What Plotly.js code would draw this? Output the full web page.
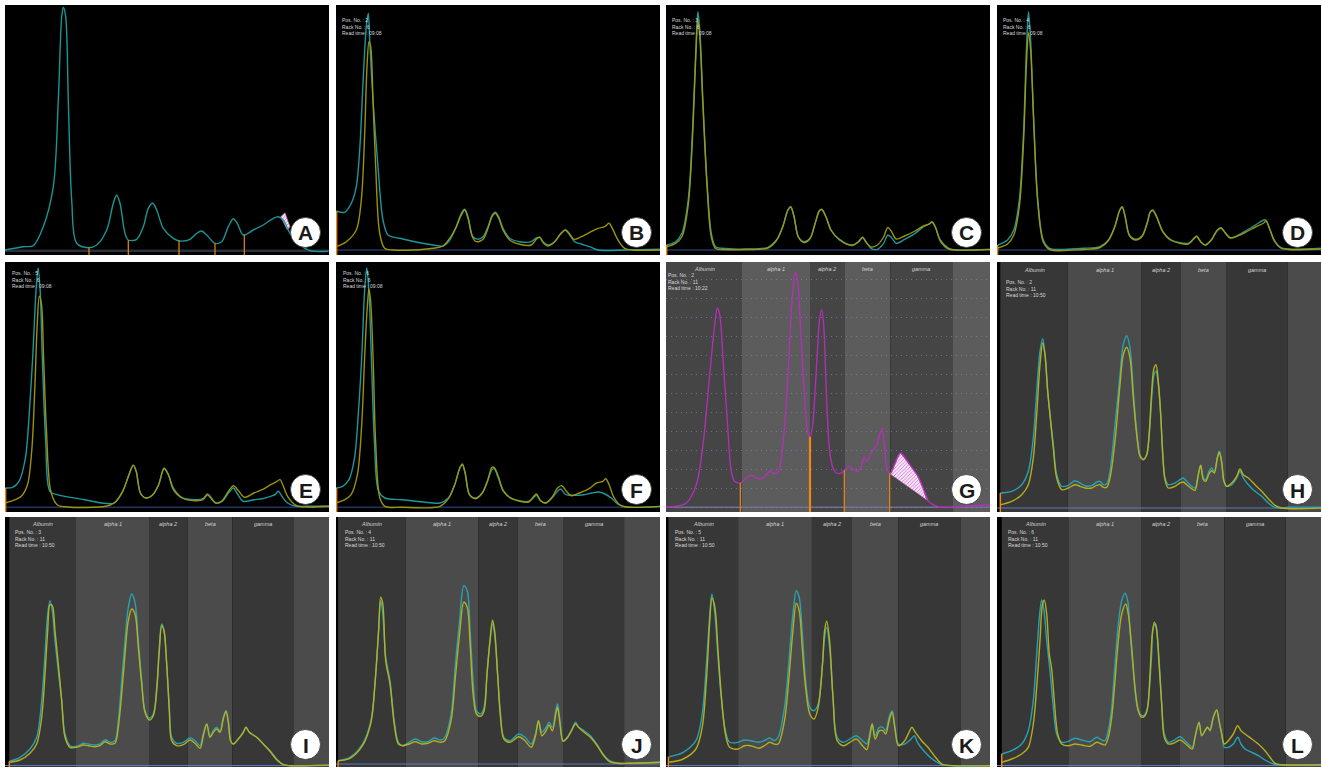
<!DOCTYPE html>
<html><head><meta charset="utf-8">
<script src="https://cdn.plot.ly/plotly-3.0.1.min.js"></script>
<style>html,body{margin:0;padding:0;background:#fff}#chart{width:1322px;height:770px}</style>
</head><body><div id="chart"></div>
<script>
// ---------------- DATA (x = migration position, y = intensity, arbitrary units) ----------------
const letters  = ['A','B','C','D','E','F','G','H','I','J','K','L'];
const posNo    = [null,'2','3','4','5','6','2','2','3','4','5','6'];
const rackNo   = [null,'6','6','6','6','6','11','11','11','11','11','11'];
const readTime = [null,'09:08','09:08','09:08','09:08','09:08','10:22','10:50','10:50','10:50','10:50','10:50'];
const bandNames = ['Albumin','alpha 1','alpha 2','beta','gamma'];

// fraction boundaries (panels G-L)
const bandsG = [0,76,144,178.3,224.3,286.3,324];
const bandsH = [3.3,70.7,144.7,184,229,290.7,324];
const bandsI = [4.3,71,144,182.7,227.3,288.3,324];
const bandsJ = [2.1,69.6,142.6,181.8,227,288.1,324];
const bandsK = [2.4,72.1,145.9,186,232.4,294.4,324];
const bandsL = [4.7,71.3,144,183,227.3,288.7,324];

// separators
const sepsA = [84,123.3,174,210,239.3];
const sepsG = [74.3,144,178.3,223.7];

const A_trace = [[0,5],[18.3,8.3],[28.3,9.3],[38.3,28.3],[48.3,68.3],[53.3,155],[56.7,238.3],[58.3,247.7],[60.7,238.3],[63.3,155],[66.7,55],[71.7,11.7],[83.3,7.3],[91.7,10],[101.7,25],[108.3,51.7],[111.7,60],[115,51.7],[120,21.7],[123.3,15],[131.7,15.7],[138.3,28.3],[143.3,46.7],[147.7,51.7],[151.7,45],[158.3,26.7],[168.3,16.7],[175,14],[185,15.7],[191.7,21.7],[196.7,24],[201.7,20],[210,11.7],[216.7,13.3],[223.3,28.3],[228.3,36.3],[232.3,31.7],[238.3,20],[248.3,25],[258.3,30],[268.3,36.7],[273.3,38.3],[278.3,35],[285,21.7],[295,10],[305,4.3],[323.3,3.7]];
const A_hatch = [[275.7,38.3],[280,42.3],[285,28.3],[282.3,25]];

const B_teal = [[0.3,44],[8.7,42.7],[15.3,51.7],[20.3,68.3],[23.7,105],[27,171.7],[30.3,228.3],[32.3,241.7],[33.7,215],[37,155],[42,88.3],[47,35],[52,20],[63.7,16.7],[83.7,12.3],[97,10],[107,9],[113.7,15],[120.3,28.3],[125.3,41.7],[128.7,45.7],[132,38.3],[137,18.3],[142,15.7],[147,18.3],[152,28.3],[156.3,40],[159.3,42.7],[162.7,38.3],[167,26.7],[173.7,16.7],[183.7,13.3],[195.3,13.3],[200.3,17],[203.7,17.7],[207,13.3],[212,10],[218.7,13.3],[225.3,22.3],[229.3,25],[233.7,20],[238.7,13.3],[245.3,11],[253.7,8.3],[262,5],[290.3,5],[325,5.7]];
const B_yellow = [[0.3,8.3],[10.3,13.3],[20.3,25],[25.3,55],[28.7,121.7],[31,188.3],[33,213.3],[34.7,208.3],[37,155],[39.7,88.3],[43.7,21.7],[48.7,6.7],[57,5],[77,5],[97,6.7],[107,9],[113.7,16.7],[120.3,28.3],[125.3,40],[128.7,45],[132,36.7],[136.3,18.3],[140.3,13.3],[147,15.7],[152,26.7],[156.3,39],[159.3,41.7],[162.7,36.7],[167,25],[173.7,15],[183.7,10.7],[195.3,10],[200.3,15.7],[203.7,17.7],[207.7,11.7],[212,9],[218.7,13.3],[225.3,21.7],[229.3,25],[233.7,21],[237.7,15.7],[245.3,18.3],[253.7,22.7],[262,26.7],[268.7,28.3],[273,31.7],[276.3,26.7],[282,15],[288.7,6.7],[297,5],[325,5]];

const C_teal = [[0.4,10],[9.6,13.3],[15.9,21.7],[22.2,55],[26.4,121.7],[29.8,205],[31.9,243.3],[34,221.7],[36.9,155],[41.1,71.7],[45.3,21.7],[49.5,8.3],[55.8,6.7],[81,6],[102,7.7],[110.4,15],[116.7,28.3],[121.8,45],[124.7,48.3],[128.1,38.3],[132.3,18.3],[137.8,13.3],[144.1,16.7],[149.1,31.7],[153.3,44.3],[155.8,45.7],[160,38.3],[165.1,25],[173.5,15.7],[186.1,10],[192.4,13.3],[196.6,17.7],[199.9,13.3],[205,6.7],[211.3,5.7],[217.6,11.7],[221.8,20],[225.2,17.7],[230.2,11.7],[238.6,15.7],[249.1,21.7],[257.5,28.3],[263.8,31.7],[265.9,33.3],[269.3,28.3],[274.3,15],[282.7,6.7],[291.1,5],[324.7,5.7]];
const C_yellow = [[0.4,8.3],[9.6,11.7],[15.9,18.3],[22.2,50],[26.4,115],[29.8,198],[31.9,236],[34,215],[36.9,150],[41.1,68],[45.3,18],[49.5,6.5],[55.8,5.5],[81,5.5],[102,7],[110.4,14.5],[116.7,28],[121.8,44.5],[124.7,48],[128.1,38],[132.3,18],[137.8,12.5],[144.1,16.5],[149.1,31.5],[153.3,44],[155.8,45.5],[160,38],[165.1,24.5],[173.5,15],[186.1,9.5],[192.4,13],[196.6,17.5],[199.9,13],[205,8],[211.3,10],[217.6,18],[221.8,27.5],[225.2,24],[230.2,16],[238.6,19],[249.1,24],[257.5,29],[263.8,31],[265.9,33],[269.3,28],[274.3,14],[282.7,6],[291.1,5],[324.7,5.5]];

const D_teal = [[0.9,10],[10.5,15],[16.8,25],[22.3,55],[26.5,121.7],[29.4,205],[31.5,243.3],[33.6,215],[36.6,138.3],[40.8,55],[46.3,15],[52.6,6.7],[86.2,6.7],[103,8.3],[111.4,15],[117.7,28.3],[122.7,45],[125.2,48.3],[128.2,38.3],[132.4,20],[138.7,15.7],[145,19],[150,31.7],[153.4,43.3],[155.9,45],[159.7,38.3],[166,23.3],[174.4,15],[191.2,11.7],[196.7,16.7],[199.6,19],[203.8,13.3],[208,10],[214.3,15],[219.8,24.3],[224,27.3],[228.2,22.3],[233.2,17.3],[241.6,20],[250,25],[258.4,30],[266.8,35],[268.9,35],[273.1,25],[277.3,15],[283.6,7.7],[292,6],[323.9,6.7]];
const D_yellow = [[0.9,7],[10.5,11],[16.8,20],[22.3,48],[26.5,112],[29.4,190],[31.5,222],[33.6,205],[36.6,135],[40.8,52],[46.3,13],[52.6,5.5],[86.2,5.5],[103,7.5],[111.4,14.5],[117.7,28],[122.7,44.5],[125.2,48],[128.2,38],[132.4,19.5],[138.7,15],[145,18.5],[150,31],[153.4,43],[155.9,44.5],[159.7,38],[166,23],[174.4,14.5],[191.2,11],[196.7,16],[199.6,18.5],[203.8,13],[208,10],[214.3,15],[219.8,24],[224,27],[228.2,22],[233.2,17],[241.6,19.5],[250,23.5],[258.4,28],[266.8,32],[268.9,34],[273.1,25],[277.3,14],[283.6,7],[292,5.5],[323.9,6]];

const E_teal = [[0.1,24],[7.7,24.7],[14,30.7],[20.4,54],[24.6,104],[28,160.7],[31,220.7],[33.1,244],[35.2,220.7],[37.3,154],[40.7,70.7],[44.9,20.7],[52.1,17.3],[79.6,12.3],[96.5,9],[109.2,9],[117.7,20.7],[124,37.3],[128.2,46.7],[131.2,40.7],[135.4,19],[140.9,14],[147.3,16.7],[153.6,27.3],[159.1,43.3],[163.4,37.3],[168.4,24],[176.9,14.7],[189.6,12.3],[198,13.3],[202.3,18],[205.2,15.7],[210.7,9],[217.1,10.7],[223.4,19],[228.5,24],[231.9,19],[238.2,10.7],[248.8,12.3],[257.3,13.3],[265.7,15.7],[270,17.3],[273.3,20.7],[277.6,14.7],[282.6,9],[291.1,5.7],[301.7,5.7],[324.1,5.7]];
const E_yellow = [[0.1,9],[7.7,11.3],[16.2,15.7],[22.5,27.3],[26.7,60.7],[29.7,120.7],[32.2,187.3],[34.3,215.7],[36.5,207.3],[38.6,154],[41.5,80.7],[45.8,20.7],[52.1,7.3],[62.7,5],[100.8,5.7],[109.2,9],[117.7,20.7],[124,37.3],[128.2,46.7],[131.2,40.7],[135.4,19],[140.9,14],[147.3,16.7],[153.6,27.3],[159.1,44],[163.4,37.3],[168.4,22.3],[176.9,14],[189.6,11.3],[198,12.3],[202.3,17.3],[205.2,14.7],[210.7,9],[217.1,11.3],[223.4,20.7],[228.5,26.3],[232.7,22.3],[239.5,14.7],[248.8,19],[257.3,22.3],[265.7,27.3],[272.1,30.7],[275,32.3],[278.4,25.7],[282.6,15.7],[291.1,6.7],[301.7,5],[324.1,5.7]];

const F_teal = [[0,24],[6.6,25.7],[13,32.3],[18.5,54],[22.7,104],[25.7,154],[28.6,220.7],[30.8,244],[32.9,220.7],[35.4,154],[38.4,70.7],[42.6,20.7],[48.9,14],[65.9,12.3],[87,10],[103.9,9],[112.4,14],[118.7,27.3],[123.8,44],[126.4,47.3],[129.3,37.3],[133.5,17.3],[139.9,14],[146.2,19],[151.3,30.7],[155.9,42.3],[158.1,43.3],[162.3,34],[167.4,20.7],[175.8,13.3],[192.8,10.7],[197.8,14.7],[200.4,16.7],[204.6,11.3],[209.7,9],[216,14],[221.5,20.7],[224.5,23],[230,17.3],[237.2,16.7],[247.8,17.3],[256.2,19],[262.6,20],[268.9,18],[275.3,14],[281.6,8],[290.1,5],[324.7,5.7]];
const F_yellow = [[0,9],[8.8,12.3],[15.1,17.3],[21.4,37.3],[25.7,87.3],[28.6,154],[31.2,204],[32.9,223],[34.6,211.3],[37.1,154],[39.6,70.7],[43.9,14],[48.9,5.7],[65.9,4.7],[103.9,5.7],[112.4,13.3],[118.7,27.3],[123.8,44],[126.4,48],[129.3,39],[133.5,17.3],[139.9,13.3],[146.2,19],[151.3,30],[155.9,44.7],[158.1,44.7],[162.3,35.7],[167.4,21.3],[175.8,13.3],[192.8,10],[197.8,15.7],[200.4,18],[204.6,11.3],[209.7,9],[216,14.7],[221.5,24],[225.8,26.3],[230,21.3],[235.1,16.3],[243.5,19],[254.1,24],[260.4,29],[266.8,30.7],[269.8,33.3],[273.1,27.3],[277.4,15.7],[283.7,7.3],[290.1,5],[324.7,5.7]];

const G_trace = [[0,4.7],[10.3,5.7],[20.3,9],[30.3,27.3],[37,67.3],[43.7,137.3],[48.7,187.3],[51.3,204],[53.7,197.3],[57,154],[62,80.7],[65.3,40.7],[68.7,30.7],[74.3,29],[80.3,34],[85.3,36.7],[90.3,34],[95.3,33],[100.3,37.3],[103.7,40.7],[107,39],[112,39],[115.3,54],[118.7,87.3],[122,137.3],[125.3,200.7],[127.7,230.7],[129.7,240],[132,227.3],[135.3,170.7],[138.7,114],[141,84],[143.7,74],[146.3,84],[148.7,114],[151,154],[153.7,194],[155.7,202.3],[157.7,187.3],[160.3,120.7],[163.7,60.7],[167,44],[170.3,39],[175.3,39],[178.7,42],[183,45.7],[187,43.3],[192,40.7],[195.3,45.7],[198,54.7],[201,50.7],[204.3,57.3],[208.7,64],[211,67.3],[213.7,77.3],[215.7,83.3],[217.7,74],[219.7,50.7],[222,40.7],[224.3,38],[234.3,59],[243.7,47.3],[252,35.7],[257,24],[262,11.3],[267,7.3],[273.7,4.7],[287,4.7],[297,5.7],[325,7.3]];
const G_hatch = [[224.3,38],[234.3,59],[243.7,47.3],[252,35.7],[257,24],[262,11.3]];

const H_teal = [[3.3,19],[14.7,20.7],[24.7,27.3],[31.3,40.7],[36.3,74],[39.7,120.7],[43,160.7],[45.7,173.3],[48,157.3],[50.7,120.7],[53,97.3],[56.3,67.3],[59.7,37.3],[64.7,25.7],[71.3,26.7],[78,31.3],[83,29],[88,26.3],[94.7,26.3],[99.7,30],[103,30.7],[106.3,27.3],[109.7,28],[113,40.7],[118,87.3],[123,137.3],[126.3,167.3],[129.7,176.3],[133,164],[136.3,120.7],[139.7,80.7],[143,57.3],[146.3,53],[149.7,57.3],[152.3,77.3],[154.7,114],[157,137.3],[159,140.7],[161.3,127.3],[163.7,97.3],[165.7,60.7],[168,34],[171.3,27.3],[178,29],[183,32.3],[186.3,34],[189.7,30.7],[194.7,25.7],[198,24],[201.3,37.3],[203.7,46.7],[206.3,34],[208.7,32.3],[212,40.7],[214.7,44],[217.3,40.7],[220.3,54],[222.3,60.7],[224.7,50.7],[227,30.7],[229.7,25.7],[234.7,27.3],[239.7,34],[243,40.7],[246.3,34],[251.3,27.3],[258,20.7],[264.7,15.7],[271.3,9],[278,4.7],[284.7,4],[291.3,4.7],[326.3,4.7]];
const H_yellow = [[3.3,7.3],[14.7,10.7],[24.7,17.3],[31.3,27.3],[36.3,54],[39.7,97.3],[43,147.3],[45.7,169],[48,157.3],[50.7,120.7],[53,97.3],[56.3,64],[59.7,34],[64.7,22.3],[71.3,24],[78,27.3],[83,25.7],[88,24],[94.7,24],[99.7,26.7],[103,27.3],[106.3,24.7],[109.7,24.7],[113,34],[118,70.7],[123,127.3],[126.3,157.3],[129.7,164.7],[133,154],[136.3,114],[139.7,77.3],[143,55.7],[146.3,52.3],[149.7,57.3],[152.3,80.7],[154.7,120.7],[157,144],[159,147.3],[161.3,130.7],[163.7,97.3],[165.7,57.3],[168,32.3],[171.3,24],[178,25.7],[183,29],[186.3,30],[189.7,27.3],[194.7,23.3],[198,21.7],[201.3,37.3],[203.7,46.7],[206.3,32.3],[208.7,30.7],[212,38],[214.7,41.3],[217.3,39],[220.3,54],[222.3,59.7],[224.7,49],[227,30.7],[229.7,25.7],[234.7,29],[239.7,35.7],[243,43],[246.3,37.3],[251.3,34],[258,27.3],[264.7,20.7],[271.3,13.3],[278,6.7],[284.7,4],[326.3,4]];

const I_teal = [[4.3,5.7],[15,9.7],[25,18],[31.7,29.7],[36.7,66.3],[40,113],[42.7,153],[45,166.3],[47.3,156.3],[50,126.3],[53.3,96.3],[56.7,66.3],[60,33],[65,21.3],[71.7,20.7],[78.3,23.7],[83.3,23],[90,22],[95,23],[100,27.3],[105,24.7],[110,26.3],[113.3,46.3],[116.7,86.3],[120,126.3],[123.3,159.7],[126.7,173],[130,164.7],[133.3,126.3],[136.7,86.3],[140,56.3],[144.3,49],[148.3,53],[151.7,79.7],[154.3,119.7],[156.7,143],[159,136.3],[161.7,103],[164.3,59.7],[166.7,29.7],[171.7,23.7],[178.3,24.7],[185,29],[190,26.3],[195,21.3],[198.3,33],[201.7,43],[205,30.3],[208.3,36.3],[211.7,39.7],[215,35.7],[218.3,49.7],[221,56.3],[223.3,46.3],[225.7,26.3],[228.3,23],[233.3,28],[238.3,34.7],[241,39.7],[244.3,34.7],[251.7,29.7],[258.3,23],[265,16.3],[271.7,8],[278.3,2.3],[285,1.3],[328.3,2]];
const I_yellow = [[4.3,4.7],[15,7],[25,13.7],[31.7,23],[36.7,49.7],[40,93],[42.7,136.3],[45,162.3],[47.3,161.3],[50,136.3],[53.3,103],[56.7,66.3],[60,29.7],[65,19.7],[71.7,19.7],[78.3,22],[83.3,21.3],[90,20.3],[95,21.3],[100,25.3],[105,23],[110,23.7],[113.3,39.7],[116.7,73],[120,113],[123.3,146.3],[126.7,158],[130,153],[133.3,119.7],[136.7,83],[140,54.7],[144.3,47],[148.3,51.3],[151.7,76.3],[154.3,116.3],[156.7,141.3],[159,136.3],[161.7,103],[164.3,56.3],[166.7,26.3],[171.7,21.3],[178.3,22.3],[185,27],[190,23.7],[195,18.7],[198.3,31.3],[201.7,43],[205,29.7],[208.3,34.7],[211.7,38],[215,34.7],[218.3,48],[221,55.7],[223.3,44.7],[225.7,25.7],[228.3,23],[233.3,28],[238.3,34.7],[241,39.7],[244.3,34.7],[251.7,29.7],[258.3,23],[265,15.7],[271.7,7.3],[278.3,2.3],[285,1.3],[328.3,2]];

const J_teal = [[2.1,6.3],[13.9,9.7],[26.5,23],[35,46.3],[39.2,86.3],[42.6,136.3],[44.7,166.3],[46.8,153],[49.7,109.7],[54,86.3],[58.2,46.3],[62.4,24.7],[66.6,21.3],[73,24.7],[79.3,28],[85.6,25.3],[91.9,25.3],[98.3,29],[104.6,27],[108.8,29.7],[115.1,53],[119.4,103],[123.6,146.3],[127.8,181.3],[131.2,176.3],[134.1,136.3],[137.1,86.3],[140.5,56.3],[144.7,53],[148.1,59.7],[151,93],[154,126.3],[156.5,143],[158.6,133],[161.6,93],[164.5,53],[167.9,29.7],[174.2,26.3],[182.7,33],[189,29.7],[195.3,23],[199.5,33],[202.5,46.3],[205.9,34.7],[210.1,39.7],[213,44.7],[216.4,39.7],[219.8,56.3],[221.5,63],[224,46.3],[227,26.3],[231.2,29.7],[235.4,36.3],[239.6,44.7],[242.6,39.7],[248.1,36.3],[254.4,31.3],[260.7,23],[267,13],[273.4,6.3],[281.8,3.7],[292.4,3.7],[324,4.7]];
const J_yellow = [[2.1,6.3],[13.9,8.7],[26.5,21.3],[35,44.7],[39.2,86.3],[42.6,136.3],[44.7,169.7],[46.8,163],[49.7,106.3],[54,83],[58.2,43],[62.4,23],[66.6,21.3],[73,23],[79.3,25.3],[85.6,23],[91.9,23.7],[98.3,26.3],[104.6,24.7],[108.8,26.3],[115.1,46.3],[119.4,89.7],[123.6,133],[127.8,164.7],[131.2,159.7],[134.1,123],[137.1,73],[140.5,53],[144.7,50.7],[148.1,56.3],[151,93],[154,126.3],[156.5,147],[158.6,136.3],[161.6,93],[164.5,49.7],[167.9,28],[174.2,24.7],[182.7,30.3],[189,26.3],[195.3,19.7],[199.5,31.3],[202.5,46.3],[205.9,31.3],[210.1,36.3],[213,42],[216.4,36.3],[219.8,53],[221.5,59.7],[224,43],[227,25.7],[231.2,29],[235.4,36.3],[239.6,43],[242.6,39.7],[248.1,34.7],[254.4,29.7],[260.7,22],[267,12.3],[273.4,5.7],[281.8,3.7],[292.4,3.7],[324,4.7]];

const K_teal = [[3.3,10.3],[17.2,14.7],[29.9,26.3],[36.2,53],[40.4,103],[43.8,153],[45.9,173],[48.9,153],[51.8,113],[55.2,69.7],[59.4,36.3],[63.6,24.7],[72.1,24.7],[78.4,27],[84.7,26.3],[93.2,24.7],[99.5,27],[103.7,29],[107.9,26.3],[112.1,29.7],[118.5,59.7],[122.7,103],[126.9,153],[130.3,176.3],[133.2,169.7],[136.2,136.3],[139.6,86.3],[143.8,59.7],[148,56.3],[152.2,63],[156.5,103],[158.6,129.7],[160.7,139.7],[163.6,119.7],[167,69.7],[171.2,29.7],[177.5,24.7],[183.9,28],[190.2,31.3],[196.5,26.3],[200.7,23],[203.7,33],[206.2,43],[209.2,31.3],[213.4,39.7],[216.8,39.7],[219.7,36.3],[223.1,49.7],[226.1,56.3],[229,39.7],[232.4,23],[238.7,23],[245.1,28],[248.4,31.3],[251.4,24.7],[257.7,16.3],[266.2,8],[274.6,3],[287.3,1.3],[325.2,1.3]];
const K_yellow = [[3.3,4.7],[17.2,8],[29.9,18],[36.2,39.7],[40.4,86.3],[43.8,146.3],[45.9,169],[48.9,159.7],[51.8,119.7],[55.2,73],[59.4,33],[63.6,19.7],[72.1,18],[78.4,21.3],[84.7,21.3],[93.2,18.7],[99.5,22],[103.7,24.7],[107.9,23],[112.1,23],[118.5,46.3],[122.7,86.3],[126.9,136.3],[130.3,163.7],[133.2,156.3],[136.2,119.7],[139.6,79.7],[143.8,53],[148,48],[152.2,59.7],[156.5,103],[158.6,136.3],[160.7,145.7],[163.6,126.3],[167,69.7],[171.2,26.3],[177.5,21.3],[183.9,24.7],[190.2,28],[196.5,21.3],[200.7,17.3],[203.7,29.7],[206.2,43],[209.2,28],[213.4,36.3],[216.8,36.3],[219.7,33],[223.1,46.3],[226.1,54.7],[229,38],[232.4,21.3],[238.7,26.3],[243,34.7],[245.9,39.7],[249.3,34.7],[255.6,26.3],[261.9,19.7],[268.3,11.3],[276.7,2.3],[287.3,1.3],[325.2,1.3]];

const L_teal = [[4.7,13],[14.7,16.3],[24.7,23],[31.3,36.3],[36.3,66.3],[39.7,113],[43,156.3],[44.7,167],[47,156.3],[49.7,126.3],[53,96.3],[56.3,59.7],[59.7,33],[64.7,24.7],[71.3,25.7],[78,28.7],[84.7,27],[93,25.3],[99.7,29.7],[104.7,27],[108,26.3],[111.3,36.3],[114.7,59.7],[118,103],[121.3,143],[124.7,166.3],[128,173.7],[130.7,166.3],[133,136.3],[136.3,96.3],[139.7,63],[143,53],[146.3,51.3],[149.7,56.3],[152,73],[154.7,113],[156.3,139.7],[158.7,143],[160.7,126.3],[163,93],[165.3,53],[167.3,33],[171.3,24.7],[176.3,26.3],[183,30.3],[188,26.3],[191.3,23],[195.3,19.7],[198,29.7],[202,44.7],[204.7,31.3],[208,36.3],[210.3,39.7],[213,38],[216.3,49.7],[219.7,57],[222,46.3],[224.7,33],[227.3,19.7],[231.3,19.7],[236.3,23],[240.7,29.7],[244,23],[248,18],[254.7,14.7],[261.3,11.3],[268,7],[274.7,3.7],[281.3,2.3],[326.3,2.3]];
const L_yellow = [[4.7,4.7],[14.7,8],[24.7,13],[31.3,19.7],[36.3,43],[39.7,79.7],[43,126.3],[45.3,161.3],[47.3,167],[49.7,153],[52.3,113],[54.7,98],[57.3,66.3],[60.7,33],[64.7,23],[71.3,21.3],[78,23],[84.7,22],[93,20.7],[99.7,24.7],[104.7,23],[108,22],[111.3,29.7],[114.7,49.7],[118,86.3],[121.3,126.3],[124.7,153],[128.7,163],[131.3,153],[134.7,119.7],[138,79.7],[141.3,56.3],[144.7,49.7],[148,51.3],[150.7,59.7],[153,93],[155.3,133],[157.3,144.7],[159.7,136.3],[162,103],[164.7,63],[167.3,29.7],[171.3,23],[176.3,23.7],[183,27],[188,23.7],[191.3,20.7],[195.3,18],[198,29.7],[202,44.7],[204.7,31.3],[208,36.3],[210.3,39.7],[213,36.3],[216.3,49.7],[219.7,57],[222,46.3],[224.7,33],[227.3,23],[231.3,26.3],[236.3,33],[240.7,41.3],[244,36.3],[248,33],[254.7,28],[261.3,23],[268,16.3],[273,9.7],[278,3.7],[284.7,2.3],[326.3,2.3]];

// ---------------- LAYOUT / STYLE ----------------
const W = 1322, H = 770, PW = 324, PH = 250;
const COLS = [5, 336, 666, 997];
const ROWS = [5, 262, 517];
const TEAL_D = '#1e9fa6', YEL_D = '#a29a08';
const TEAL_L = '#26a6b8', YEL_L = '#bcb31a';
const ORANGE = '#f0880c';
const FONT = 'Liberation Sans, Arial, sans-serif';

const P = [
 {curves:[[A_trace,'#1b9d9d']], hatch:A_hatch, seps:sepsA, base:[4.3,'#2c2f3d',2.5]},
 {curves:[[B_teal,TEAL_D],[B_yellow,YEL_D]], edge:true, base:[5,'#25345e',1.5], info:[5.3,11.5]},
 {curves:[[C_teal,TEAL_D],[C_yellow,YEL_D]], edge:true, base:[5,'#25345e',1.5], info:[5.4,11]},
 {curves:[[D_teal,TEAL_D],[D_yellow,YEL_D]], edge:true, base:[5,'#25345e',1.5], info:[5.4,11]},
 {curves:[[E_teal,TEAL_D],[E_yellow,YEL_D]], edge:true, base:[4.7,'#25345e',1.5], info:[5.6,6.5]},
 {curves:[[F_teal,TEAL_D],[F_yellow,YEL_D]], edge:true, base:[4.7,'#25345e',1.5], info:[5.5,6.5]},
 {curves:[[G_trace,'#b52fb8']], hatch:G_hatch, seps:sepsG, bands:bandsG, bandCol:['#454545','#5c5c5c'], base:[4.7,'#6c7092',1.5], info:[1,9], grid:true, labelTop:6.7},
 {curves:[[H_teal,TEAL_L],[H_yellow,YEL_L]], edge:true, bands:bandsH, bandCol:['#373737','#4b4b4b'], base:[4,'#5a7ac4',1.2], info:[8,16], labelTop:8.3},
 {curves:[[I_teal,TEAL_L],[I_yellow,YEL_L]], edge:true, bands:bandsI, bandCol:['#373737','#4b4b4b'], base:[1.5,'#5a7ac4',1.2], info:[9,11.3], labelTop:7.3},
 {curves:[[J_teal,TEAL_L],[J_yellow,YEL_L]], edge:true, bands:bandsJ, bandCol:['#373737','#4b4b4b'], base:[3,'#5a7ac4',1.2], info:[7.5,10.7], labelTop:7.3},
 {curves:[[K_teal,TEAL_L],[K_yellow,YEL_L]], edge:true, bands:bandsK, bandCol:['#373737','#4b4b4b'], base:[1.5,'#5a7ac4',1.2], info:[7.9,10.7], labelTop:7.3},
 {curves:[[L_teal,TEAL_L],[L_yellow,YEL_L]], edge:true, bands:bandsL, bandCol:['#373737','#4b4b4b'], base:[1.5,'#5a7ac4',1.2], info:[9.7,10.7], labelTop:6.7}
];

function interpY(pts, x){
  for(let k=1;k<pts.length;k++){
    if(pts[k][0]>=x){const a=pts[k-1],b=pts[k];const t=(x-a[0])/((b[0]-a[0])||1);return a[1]+t*(b[1]-a[1]);}
  }
  return pts[pts.length-1][1];
}

const traces=[], shapes=[], annotations=[];
const layout = {width:W, height:H, margin:{l:0,r:0,t:0,b:0}, paper_bgcolor:'#ffffff', plot_bgcolor:'#000000', showlegend:false};

P.forEach((p,i)=>{
  const n=i+1, sfx = n===1?'':String(n);
  const xa='x'+sfx, ya='y'+sfx;
  const c=i%4, r=Math.floor(i/4);
  const left=COLS[c], top=ROWS[r];
  layout['xaxis'+sfx] = {domain:[left/W,(left+PW)/W], range:[0,PW], anchor:ya, showgrid:false, zeroline:false, showticklabels:false, ticks:'', showline:false, fixedrange:true};
  const yax = {domain:[1-(top+PH)/H, 1-top/H], range:[0,PH], anchor:xa, showgrid:false, zeroline:false, showticklabels:false, ticks:'', showline:false, fixedrange:true};
  if(p.grid){ Object.assign(yax,{showgrid:true, tick0:p.base[0], dtick:19, gridcolor:'rgba(140,140,215,0.55)', gridwidth:1, griddash:'1px,4px'}); }
  layout['yaxis'+sfx] = yax;

  if(p.bands){
    for(let b=0;b<p.bands.length-1;b++){
      shapes.push({type:'rect', xref:xa, yref:ya, x0:p.bands[b], x1:p.bands[b+1], y0:0, y1:PH, fillcolor:p.bandCol[b%2], line:{width:0}, layer:'below'});
    }
    for(let b=0;b<bandNames.length;b++){
      annotations.push({xref:xa, yref:ya, x:(p.bands[b]+p.bands[b+1])/2, y:PH-p.labelTop, text:bandNames[b], showarrow:false, xanchor:'center', yanchor:'middle', font:{family:FONT, size:5.5, color:'#d2d2d2', style:'italic'}});
    }
  }
  shapes.push({type:'line', xref:xa, yref:ya, x0:0, x1:PW, y0:p.base[0], y1:p.base[0], line:{color:p.base[1], width:p.base[2]}, layer:'below'});

  if(p.hatch){
    traces.push({type:'scatter', mode:'lines', x:p.hatch.map(q=>q[0]).concat([p.hatch[0][0]]), y:p.hatch.map(q=>q[1]).concat([p.hatch[0][1]]), xaxis:xa, yaxis:ya, fill:'toself', fillcolor:'#f3dcf3', fillpattern:{shape:'/', fgcolor:'#d068d0', bgcolor:'#f8eaf8', size:2.5, solidity:0.35}, line:{width:0.5, color:'#cc66cc'}, hoverinfo:'skip'});
  }
  p.curves.forEach(([pts,col])=>{
    traces.push({type:'scatter', mode:'lines', x:pts.map(q=>q[0]), y:pts.map(q=>q[1]), xaxis:xa, yaxis:ya, line:{color:col, width:1.4, shape:'spline', smoothing:0.9}, opacity:0.95, hoverinfo:'skip'});
  });
  if(p.seps){
    p.seps.forEach((sx,k)=>{
      const h = interpY(p.curves[0][0], sx);
      const wide = (i===6 && k===1);
      traces.push({type:'scatter', mode:'lines', x:[sx,sx], y:[0,h], xaxis:xa, yaxis:ya, line:{color:ORANGE, width:wide?2.2:1.2}, hoverinfo:'skip'});
    });
  }
  if(p.edge){
    const first = p.curves[0][0][0];
    const ex = p.bands ? p.bands[0] : 0.6;
    traces.push({type:'scatter', mode:'lines', x:[ex,ex], y:[0,first[1]], xaxis:xa, yaxis:ya, line:{color:ORANGE, width:1.5}, hoverinfo:'skip'});
  }
  if(p.info && posNo[i]){
    annotations.push({xref:xa, yref:ya, x:p.info[0], y:PH-p.info[1], xanchor:'left', yanchor:'top', align:'left', showarrow:false, borderpad:0,
      text:'Pos. No. : '+posNo[i]+'<br>Rack No. : '+rackNo[i]+'<br>Read time : '+readTime[i], font:{family:FONT, size:5, color:'#d8d8d8'}});
  }
  shapes.push({type:'circle', xref:xa, yref:ya, x0:285.5, x1:315.5, y0:7.5, y1:37.5, fillcolor:'#ffffff', line:{color:'#333333', width:0.8}, layer:'above'});
  annotations.push({xref:xa, yref:ya, x:300.5, y:22, text:letters[i], showarrow:false, xanchor:'center', yanchor:'middle', font:{family:FONT, size:21, color:'#1a1a1a', weight:700}});
});

layout.shapes = shapes;
layout.annotations = annotations;
Plotly.newPlot('chart', traces, layout, {staticPlot:true, displayModeBar:false});
</script>
</body></html>
